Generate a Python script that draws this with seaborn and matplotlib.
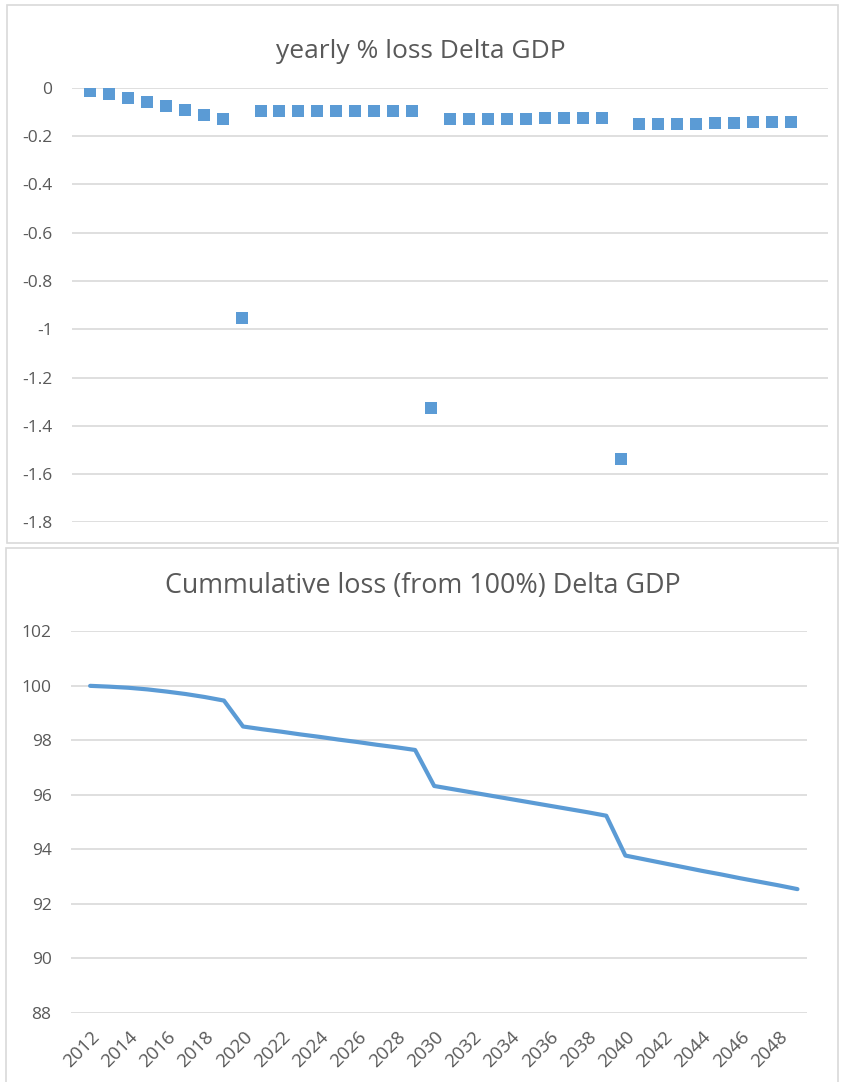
import matplotlib
matplotlib.use("Agg")
import matplotlib.pyplot as plt
import seaborn as sns
import pandas as pd
from matplotlib.patches import Rectangle

years = [2012, 2013, 2014, 2015, 2016, 2017, 2018, 2019, 2020, 2021,
         2022, 2023, 2024, 2025, 2026, 2027, 2028, 2029, 2030, 2031,
         2032, 2033, 2034, 2035, 2036, 2037, 2038, 2039, 2040, 2041,
         2042, 2043, 2044, 2045, 2046, 2047, 2048, 2049]

yearly_loss = [-0.012, -0.028, -0.044, -0.059, -0.077, -0.092, -0.111, -0.129,
               -0.955, -0.097, -0.097, -0.097, -0.097, -0.097, -0.097, -0.097,
               -0.097, -0.097, -1.328, -0.131, -0.130, -0.130, -0.129, -0.128,
               -0.127, -0.126, -0.125, -0.124, -1.538, -0.152, -0.151, -0.150,
               -0.149, -0.148, -0.146, -0.144, -0.142, -0.140]

cumulative = [99.99, 99.96, 99.92, 99.86, 99.78, 99.69, 99.58, 99.45,
              98.50, 98.40, 98.31, 98.21, 98.12, 98.02, 97.93, 97.83,
              97.74, 97.64, 96.32, 96.20, 96.08, 95.96, 95.84, 95.72,
              95.60, 95.48, 95.36, 95.23, 93.77, 93.63, 93.49, 93.35,
              93.21, 93.08, 92.94, 92.81, 92.68, 92.54]

top_ticks = [0, -0.2, -0.4, -0.6, -0.8, -1, -1.2, -1.4, -1.6, -1.8]
top_tick_labels = ["0", "-0.2", "-0.4", "-0.6", "-0.8", "-1", "-1.2", "-1.4", "-1.6", "-1.8"]
bottom_ticks = [88, 90, 92, 94, 96, 98, 100, 102]
year_labels = [2012, 2014, 2016, 2018, 2020, 2022, 2024, 2026, 2028, 2030,
               2032, 2034, 2036, 2038, 2040, 2042, 2044, 2046, 2048]

df = pd.DataFrame({"year": years, "loss": yearly_loss, "cum": cumulative})

sns.set_style("white")
plt.rcParams["font.family"] = ["Open Sans", "DejaVu Sans"]

blue = "#5b9bd5"
grey_text = "#595959"
grid_col = "#d9d9d9"

W, H = 842, 1082
fig = plt.figure(figsize=(W / 100, H / 100), dpi=100)

# panel frames like the spreadsheet chart boxes
fig.patches.append(Rectangle((7 / W, 1 - 543 / H), 831 / W, 538 / H,
                             transform=fig.transFigure, fill=False,
                             edgecolor=grid_col, lw=1.2))
fig.patches.append(Rectangle((6 / W, -0.01), 832 / W, 1 - 548 / H + 0.01,
                             transform=fig.transFigure, fill=False,
                             edgecolor=grid_col, lw=1.2))

# top: yearly loss
ax1 = fig.add_axes([72 / W, 1 - 522.4 / H, 756 / W, 434.7 / H])
sns.scatterplot(data=df, x="year", y="loss", marker="s", s=84, color=blue,
                linewidth=0, ax=ax1)
ax1.set_xlim(2011.05, 2050.95)
ax1.set_ylim(-1.8, 0)
ax1.set_yticks(top_ticks)
ax1.set_yticklabels(top_tick_labels)
ax1.set_xticks([])
ax1.yaxis.grid(True, color=grid_col, lw=1.2)
ax1.set_axisbelow(True)
ax1.tick_params(axis="y", length=0, pad=14, labelsize=12.5, labelcolor=grey_text)
ax1.set_xlabel("")
ax1.set_ylabel("")
for sp in ax1.spines.values():
    sp.set_visible(False)

# bottom: cumulative loss
ax2 = fig.add_axes([71 / W, 1 - 1013 / H, 736 / W, 382 / H])
sns.lineplot(data=df, x="year", y="cum", color=blue, lw=3, ax=ax2)
ax2.set_xlim(2011.0, 2049.5)
ax2.set_ylim(88, 102)
ax2.set_yticks(bottom_ticks)
ax2.set_xticks(year_labels)
ax2.set_xticklabels([str(y) for y in year_labels], rotation=45, ha="right",
                    rotation_mode="anchor")
ax2.yaxis.grid(True, color=grid_col, lw=1.2)
ax2.set_axisbelow(True)
ax2.tick_params(axis="y", length=0, pad=14, labelsize=12.5, labelcolor=grey_text)
ax2.tick_params(axis="x", length=0, pad=11, labelsize=13.5, labelcolor=grey_text)
ax2.set_xlabel("")
ax2.set_ylabel("")
for sp in ax2.spines.values():
    sp.set_visible(False)

fig.text(420.5 / W, 1 - 58 / H, "yearly % loss Delta GDP", ha="center",
         va="baseline", fontsize=19, color=grey_text)
fig.text(423 / W, 1 - 593 / H, "Cummulative loss (from 100%) Delta GDP",
         ha="center", va="baseline", fontsize=19.4, color=grey_text)

fig.savefig("out.png", dpi=100)
